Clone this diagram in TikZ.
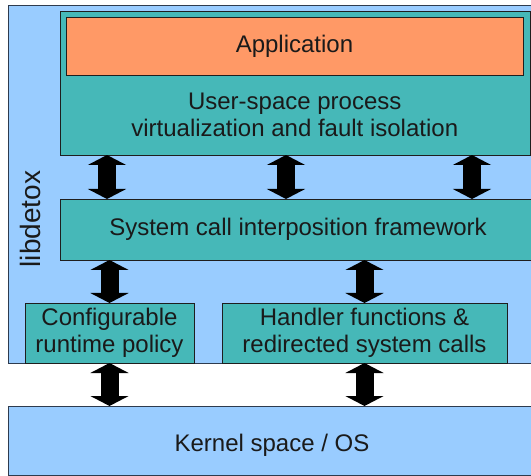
\documentclass[tikz,border=0pt]{standalone}
\usepackage{fontspec}
\setmainfont{Liberation Sans}
\usetikzlibrary{arrows.meta, positioning, calc}

\definecolor{skyblue}{HTML}{99CCFF}
\definecolor{tealbox}{HTML}{46B8B8}
\definecolor{appcolor}{HTML}{FF9966}
\definecolor{edgecolor}{HTML}{1E1E1E}
\definecolor{outercolor}{HTML}{2E3B4E}
\definecolor{textcolor}{HTML}{1A1A1A}

\tikzset{
  layer/.style={draw=edgecolor, line width=0.8pt, inner sep=0pt, outer sep=0pt,
    anchor=north west, text=textcolor, align=center,
    font=\fontsize{24}{27.5}\selectfont},
  tealbox/.style={layer, fill=tealbox},
  skybox/.style={layer, fill=skyblue, draw=outercolor},
  labeltext/.style={text=textcolor, align=center, inner sep=0pt,
    font=\fontsize{24}{27.5}\selectfont},
  updown/.style={{Triangle[width=38pt, length=10pt]}-{Triangle[width=38pt, length=10pt]},
    line width=18pt, black}
}

\begin{document}
\begin{tikzpicture}[x=1pt, y=-1pt]
  \useasboundingbox (0,0) rectangle (531,476);
  \clip (0,0) rectangle (531,476);

  % libdetox area
  \node[skybox, minimum width=528pt, minimum height=358pt] (libdetox) at (8,5) {};
  \node[labeltext, rotate=90, font=\fontsize{28}{30}\selectfont] (libdetoxlabel) at (30,219) {libdetox};

  % user-space process
  \node[tealbox, minimum width=470pt, minimum height=144pt] (userspace) at (60,11) {};
  \node[layer, fill=appcolor, minimum width=457pt, minimum height=58pt] (app) at (66,17) {Application};
  \node[labeltext] (uservirt) at ($(app.south)!0.5!(userspace.south)$)
    {User-space process\\virtualization and fault isolation};

  % interposition layer
  \node[tealbox, minimum width=476pt, minimum height=61pt] (syscall) at (60,199) {System call interposition framework};

  % policy and handlers
  \node[tealbox, minimum width=169pt, minimum height=60pt] (policy) at (25,303) {Configurable\\runtime policy};
  \node[tealbox, minimum width=285pt, minimum height=60pt] (handler) at (222,303) {Handler functions \&\\redirected system calls};

  % kernel
  \node[skybox, minimum width=528pt, minimum height=69pt] (kernel) at (8,406) {};
  \node[labeltext] (kerneltext) at ([yshift=-5pt]kernel.center) {Kernel space / OS};

  % arrows between layers
  \foreach \dx in {47,226,412}
    \draw[updown] ([xshift=\dx pt]userspace.south west) -- ([xshift=\dx pt]syscall.north west);
  \draw[updown] (policy.north |- syscall.south) -- (policy.north);
  \draw[updown] (handler.north |- syscall.south) -- (handler.north);
  \draw[updown] (policy.south) -- (policy.south |- kernel.north);
  \draw[updown] (handler.south) -- (handler.south |- kernel.north);
\end{tikzpicture}
\end{document}
